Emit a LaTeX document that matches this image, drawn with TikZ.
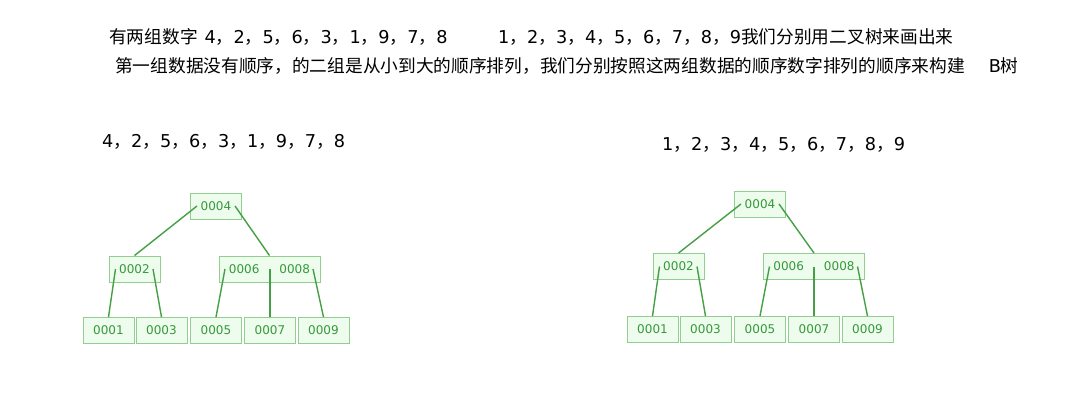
\documentclass[tikz,border=0pt]{standalone}
\usepackage{fontspec}
\newfontfamily\cjk{Noto Sans CJK SC}
\newfontfamily\latin{DejaVu Sans}
\newcommand\sep{{\cjk ，}}
\usepackage{xcolor}
\definecolor{boxline}{HTML}{92CE92}
\definecolor{boxfill}{HTML}{EDFCED}
\definecolor{keytext}{HTML}{36993A}
\definecolor{edgeline}{HTML}{45A045}
\tikzset{
    keybox/.style={draw=boxline,fill=boxfill,line width=0.9pt,minimum width=51pt,minimum height=26pt,inner sep=0pt,text=keytext,font=\latin\fontsize{12}{12}\selectfont},
    widebox/.style={keybox,minimum width=101pt},
    edge/.style={draw=edgeline,line width=1.4pt},
    title/.style={font=\latin\fontsize{17.7}{17.7}\selectfont,inner sep=0pt,anchor=west}
}

\begin{document}
\begin{tikzpicture}[x=1pt,y=-1pt]
    \useasboundingbox[fill=white] (0,0) rectangle (1090,420);
    % text on top
    \node[title] (t1a) at (109,37) {{\cjk 有两组数字}\hspace{7pt}4\sep 2\sep 5\sep 6\sep 3\sep 1\sep 9\sep 7\sep 8};
    \node[title] (t1b) at (498,37) {1\sep 2\sep 3\sep 4\sep 5\sep 6\sep 7\sep 8\sep 9{\cjk 我们分别用二叉树来画出来}};
    \node[title] (t2) at (115,66) {{\cjk 第一组数据没有顺序，的二组是从小到大的顺序排列，我们分别按照这两组数据的顺序数字排列的顺序来构建}\hspace{24pt}B{\cjk 树}};
    \node[title] (sa) at (102,142) {4\sep 2\sep 5\sep 6\sep 3\sep 1\sep 9\sep 7\sep 8};
    \node[title] (sb) at (662,145) {1\sep 2\sep 3\sep 4\sep 5\sep 6\sep 7\sep 8\sep 9};

    % first tree
    \node[keybox] (l4) at (216,206) {0004};
    \node[keybox] (l2) at (134.5,269) {0002};
    \node[widebox] (l68) at (269.5,269) {0006\hspace{20pt}0008};
    \node[keybox] (l1) at (108.5,330.5) {0001};
    \node[keybox] (l3) at (161.5,330.5) {0003};
    \node[keybox] (l5) at (216,330.5) {0005};
    \node[keybox] (l7) at (270,330.5) {0007};
    \node[keybox] (l9) at (323.5,330.5) {0009};
    \draw[edge] ([xshift=-19pt]l4.center) -- (l2.north);
    \draw[edge] ([xshift=19pt]l4.center) -- (l68.north);
    \draw[edge] ([xshift=-19pt]l2.center) -- (l1.north);
    \draw[edge] ([xshift=18.5pt]l2.center) -- (l3.north);
    \draw[edge] ([xshift=-44.5pt]l68.center) -- (l5.north);
    \draw[edge] (l7.north |- l68.center) -- (l7.north);
    \draw[edge] ([xshift=43.5pt]l68.center) -- (l9.north);

    % second tree
    \node[keybox] (r4) at (760,204) {0004};
    \node[keybox] (r2) at (678.5,266.5) {0002};
    \node[widebox] (r68) at (814,266.5) {0006\hspace{20pt}0008};
    \node[keybox] (r1) at (652.5,329.5) {0001};
    \node[keybox] (r3) at (705.5,329.5) {0003};
    \node[keybox] (r5) at (760,329.5) {0005};
    \node[keybox] (r7) at (814,329.5) {0007};
    \node[keybox] (r9) at (867.5,329.5) {0009};
    \draw[edge] ([xshift=-19pt]r4.center) -- (r2.north);
    \draw[edge] ([xshift=19pt]r4.center) -- (r68.north);
    \draw[edge] ([xshift=-19pt]r2.center) -- (r1.north);
    \draw[edge] ([xshift=18.5pt]r2.center) -- (r3.north);
    \draw[edge] ([xshift=-44.5pt]r68.center) -- (r5.north);
    \draw[edge] (r7.north |- r68.center) -- (r7.north);
    \draw[edge] ([xshift=43.5pt]r68.center) -- (r9.north);
\end{tikzpicture}
\end{document}
